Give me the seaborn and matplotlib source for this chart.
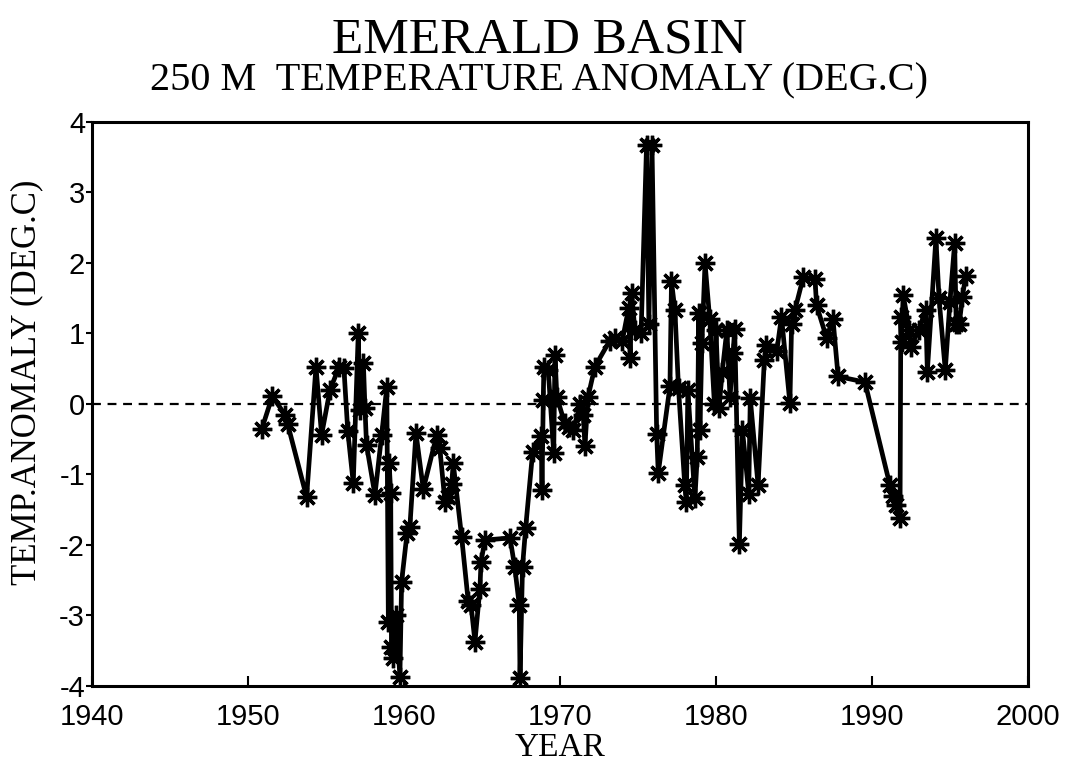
import matplotlib
matplotlib.use("Agg")
import matplotlib.pyplot as plt
import seaborn as sns
import pandas as pd

years = [1950.88, 1951.56, 1952.40, 1952.54, 1953.76, 1954.36, 1954.72, 1955.26, 1955.85, 1956.15,
         1956.40, 1956.75, 1957.07, 1957.18, 1957.40, 1957.50, 1957.60, 1958.14, 1958.57, 1958.90,
         1959.00, 1959.05, 1959.15, 1959.20, 1959.30, 1959.50, 1959.74, 1959.85, 1960.20, 1960.38,
         1960.77, 1961.24, 1962.10, 1962.30, 1962.63, 1962.80, 1963.06, 1963.16, 1963.70, 1964.12,
         1964.30, 1964.55, 1964.87, 1964.94, 1965.19, 1966.80, 1967.10, 1967.39, 1967.44, 1967.60,
         1967.80, 1968.25, 1968.80, 1968.85, 1968.93, 1968.97, 1969.25, 1969.60, 1969.68, 1969.80,
         1970.30, 1970.60, 1970.85, 1971.30, 1971.50, 1971.60, 1971.80, 1972.24, 1973.20, 1973.50,
         1974.00, 1974.40, 1974.50, 1974.60, 1974.80, 1975.20, 1975.55, 1975.70, 1975.90, 1976.20,
         1976.30, 1977.05, 1977.15, 1977.37, 1977.60, 1978.00, 1978.10, 1978.20, 1978.65, 1978.80,
         1978.90, 1978.97, 1979.10, 1979.30, 1979.60, 1979.90, 1980.00, 1980.20, 1980.40, 1980.70,
         1980.90, 1981.10, 1981.20, 1981.50, 1981.70, 1982.10, 1982.20, 1982.70, 1983.10, 1983.24,
         1983.90, 1984.20, 1984.74, 1984.85, 1985.06, 1985.60, 1986.35, 1986.45, 1987.10, 1987.50,
         1987.83, 1989.55, 1991.15, 1991.37, 1991.57, 1991.80, 1991.85, 1991.90, 1992.00, 1992.40,
         1992.50, 1993.00, 1993.45, 1993.55, 1994.10, 1994.30, 1994.70, 1995.00, 1995.30, 1995.40,
         1995.60, 1995.80, 1996.00]

anomaly = [-0.36, 0.11, -0.16, -0.28, -1.32, 0.53, -0.44, 0.20, 0.53, 0.51,
           -0.39, -1.12, 1.00, -0.09, 0.58, -0.05, -0.58, -1.29, -0.44, 0.24,
           -3.09, -0.84, -1.26, -3.44, -3.60, -3.00, -3.87, -2.52, -1.83, -1.74,
           -0.41, -1.21, -0.44, -0.63, -1.39, -1.32, -1.13, -0.84, -1.89, -2.80,
           -2.85, -3.37, -2.62, -2.24, -1.93, -1.90, -2.31, -2.85, -3.89, -2.31,
           -1.76, -0.68, -0.46, -1.22, 0.06, 0.53, 0.48, -0.70, 0.70, 0.10,
           -0.27, -0.32, -0.37, 0.00, -0.15, -0.60, 0.10, 0.53, 0.90, 0.93,
           0.90, 1.36, 0.65, 1.57, 1.05, 1.00, 3.67, 1.14, 3.67, -0.42,
           -0.98, 0.25, 1.74, 1.33, 0.22, -1.15, -1.39, 0.20, -1.34, -0.75,
           1.29, -0.37, 0.86, 2.00, 1.20, 0.00, 1.05, -0.05, 0.45, 1.05,
           0.10, 0.72, 1.07, -1.98, -0.37, -1.27, 0.08, -1.15, 0.62, 0.84,
           0.75, 1.24, 0.01, 1.14, 1.33, 1.80, 1.77, 1.40, 0.93, 1.21,
           0.39, 0.31, -1.15, -1.31, -1.43, -1.62, 1.24, 0.88, 1.55, 1.05,
           0.81, 1.05, 1.33, 0.46, 2.35, 1.50, 0.48, 1.45, 2.28, 1.14,
           1.14, 1.52, 1.81]

x_ticks = [1940, 1950, 1960, 1970, 1980, 1990, 2000]
y_ticks = [-4, -3, -2, -1, 0, 1, 2, 3, 4]

df = pd.DataFrame({"year": years, "anomaly": anomaly})

sns.set_style("white")
plt.rcParams['font.family'] = ['Liberation Sans', 'DejaVu Sans']
plt.rcParams['text.color'] = 'black'
plt.rcParams['axes.labelcolor'] = 'black'
plt.rcParams['xtick.color'] = 'black'
plt.rcParams['ytick.color'] = 'black'

fig = plt.figure(figsize=(10.68, 7.67), dpi=100)
ax = fig.add_axes([0.0861, 0.1056, 0.8764, 0.7354])

ax.axhline(0, color="black", linestyle=(0, (4, 3)), linewidth=1.6, zorder=1)

sns.lineplot(data=df, x="year", y="anomaly", sort=False, estimator=None, ax=ax,
             color="black", linewidth=3.4, marker=(8, 2, 0), markersize=14,
             markeredgewidth=2.4, markeredgecolor="black", zorder=3)

ax.set_xlim(1940, 2000)
ax.set_ylim(-4, 4)
ax.set_xticks(x_ticks)
ax.set_yticks(y_ticks)
ax.set_xticklabels([str(t) for t in x_ticks], fontsize=21)
ax.set_yticklabels([str(t) for t in y_ticks], fontsize=21)
ax.tick_params(axis="x", direction="in", length=7, width=1.5, colors="black", pad=12, bottom=True)
ax.tick_params(axis="y", direction="out", length=4, width=1.5, colors="black", pad=1, left=True)

for s in ax.spines.values():
    s.set_visible(True)
    s.set_color("black")
    s.set_linewidth(2.2)

ax.set_xlabel("YEAR", family="Liberation Serif", fontsize=24, labelpad=1, color="black")
ax.set_ylabel("TEMP.ANOMALY (DEG.C)", family="Liberation Serif", fontsize=25, color="black")
ax.yaxis.set_label_coords(-0.052, 0.539)

fig.text(0.505, 0.947, "EMERALD BASIN", family="Liberation Serif", fontsize=37,
         ha="center", va="center", color="black")
fig.text(0.505, 0.895, "250 M  TEMPERATURE ANOMALY (DEG.C)", family="Liberation Serif",
         fontsize=29, ha="center", va="center", color="black")

fig.savefig("out.png", dpi=100)
